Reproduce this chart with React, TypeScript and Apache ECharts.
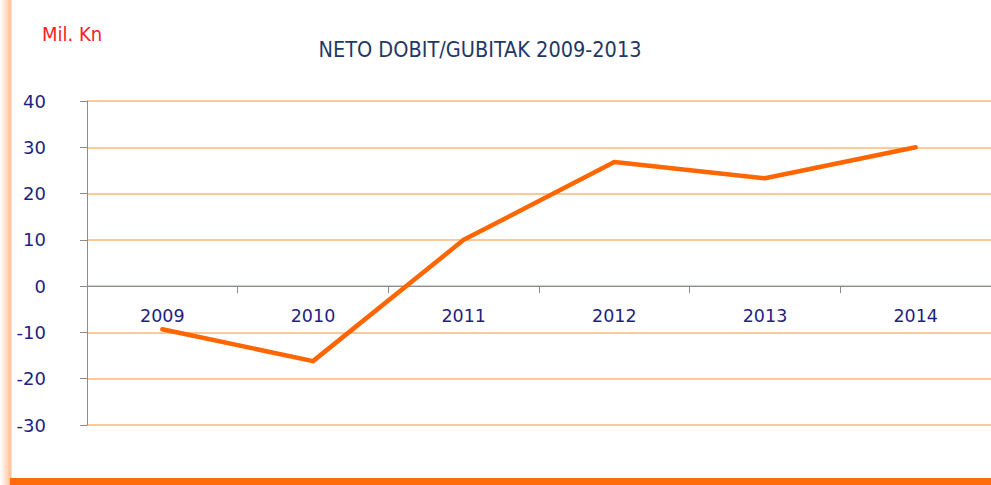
import React, { useEffect, useRef } from "react";
import * as echarts from "echarts";

const categories = ["2009", "2010", "2011", "2012", "2013", "2014"];
const values = [-9.3, -16.2, 10, 26.8, 23.3, 30];
const yMin = -30;
const yMax = 40;
const yInterval = 10;
const titleText = "NETO DOBIT/GUBITAK 2009-2013";
const unitText = "Mil. Kn";

export default function App() {
  const ref = useRef<HTMLDivElement>(null);
  useEffect(() => {
    document.body.style.margin = "0";
    const chart = echarts.init(ref.current!, undefined, { renderer: "svg" });
    chart.setOption({
      animation: false,
      backgroundColor: "#ffffff",
      graphic: [
        {
          type: "rect",
          shape: { x: 0, y: 0, width: 12, height: 485 },
          style: {
            fill: new echarts.graphic.LinearGradient(0, 0, 1, 0, [
              { offset: 0, color: "rgba(255,255,255,1)" },
              { offset: 0.6, color: "rgba(255,215,190,1)" },
              { offset: 0.85, color: "rgba(255,190,150,1)" },
              { offset: 1, color: "rgba(255,235,220,1)" },
            ]),
          },
          z: 0,
        },
        {
          type: "rect",
          shape: { x: 10, y: 478, width: 981, height: 7 },
          style: { fill: "#ff6a0a" },
          z: 0,
        },
        {
          type: "text",
          left: 42,
          top: 24,
          style: {
            text: unitText,
            fill: "#ff2020",
            font: "20px 'Liberation Sans Narrow', 'DejaVu Sans Condensed', sans-serif",
          },
        },
        {
          type: "text",
          x: 480,
          y: 49,
          style: {
            text: titleText,
            fill: "#1f3864",
            align: "center",
            verticalAlign: "middle",
            font: "21.5px 'Liberation Sans Narrow', 'DejaVu Sans Condensed', sans-serif",
          },
        },
      ],
      grid: { left: 87, right: -8, top: 101, bottom: 60, containLabel: false },
      xAxis: {
        type: "category",
        data: categories,
        boundaryGap: true,
        axisLine: { onZero: true, lineStyle: { color: "#8c8c8c", width: 1 } },
        axisTick: { show: true, interval: 0, length: 7, lineStyle: { color: "#8c8c8c" } },
        axisLabel: {
          interval: 0,
          margin: -118,
          color: "#1f1f80",
          fontSize: 17.5,
          fontFamily: "'DejaVu Sans', Verdana, sans-serif",
        },
        splitLine: { show: false },
      },
      yAxis: {
        type: "value",
        min: yMin,
        max: yMax,
        interval: yInterval,
        axisLine: { show: true, lineStyle: { color: "#8c8c8c", width: 1 } },
        axisTick: { show: true, length: 7, lineStyle: { color: "#8c8c8c" } },
        axisLabel: {
          margin: 41,
          color: "#1f1f80",
          fontSize: 18,
          fontFamily: "'DejaVu Sans', Verdana, sans-serif",
        },
        splitLine: { show: true, lineStyle: { color: "#ffc899", width: 2 } },
      },
      series: [
        {
          type: "line",
          data: values,
          showSymbol: false,
          symbol: "none",
          lineStyle: { color: "#ff6600", width: 4.5, cap: "round", join: "round" },
          z: 3,
        },
      ],
    });
    return () => chart.dispose();
  }, []);
  return <div ref={ref} style={{ width: 991, height: 485 }} />;
}
